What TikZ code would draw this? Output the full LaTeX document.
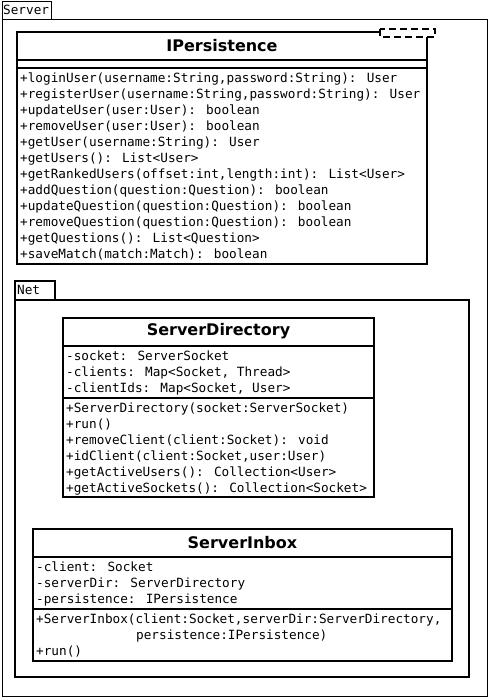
\documentclass[tikz,border=0pt]{standalone}
\usepackage{fontspec}
\setmainfont{DejaVu Sans}
\newfontfamily\umlmono{DejaVu Sans Mono}
\tikzset{
  pkgline/.style={line width=1bp},
  boxline/.style={line width=2bp},
  member/.style={anchor=west, inner sep=0pt, text height=9bp, text depth=2.5bp,
    font=\umlmono\fontsize{12.7bp}{16bp}\selectfont},
  classname/.style={inner sep=0pt, font=\bfseries\fontsize{16bp}{19bp}\selectfont}
}
\begin{document}
\begin{tikzpicture}[x=1bp,y=-1bp]
\useasboundingbox (0,0) rectangle (489,699);
% package Server
\draw [pkgline] (2,2) rectangle (51,20);
\draw [pkgline] (2,20) rectangle (487,696);
\node [member] (server) at (3,11) {Server};

% interface IPersistence
\draw [boxline] (17,32) rectangle (427,264);
\draw [boxline] (17,60) -- (427,60);
\draw [boxline] (17,68) -- (427,68);
\draw [line width=2bp, dashed, dash pattern=on 7bp off 4bp, fill=white] (380,29.5) rectangle (435,37.5);
\node [classname] (ipers) at (222,46) {IPersistence};
\foreach \txt [count=\i] in {%
  {+loginUser(username:String,password:String): User},
  {+registerUser(username:String,password:String): User},
  {+updateUser(user:User): boolean},
  {+removeUser(user:User): boolean},
  {+getUser(username:String): User},
  {+getUsers(): List<User>},
  {+getRankedUsers(offset:int,length:int): List<User>},
  {+addQuestion(question:Question): boolean},
  {+updateQuestion(question:Question): boolean},
  {+removeQuestion(question:Question): boolean},
  {+getQuestions(): List<Question>},
  {+saveMatch(match:Match): boolean}}
  \node [member] (ip\i) at (20,63+16*\i) {\txt};

% package Net
\draw [boxline] (15,281) rectangle (55,300);
\draw [boxline] (15,300) rectangle (469,677);
\node [member] (net) at (17,291) {Net};

% class ServerDirectory
\draw [boxline] (63,318) rectangle (374,497);
\draw [boxline] (63,346) -- (374,346);
\draw [boxline] (63,398) -- (374,398);
\node [classname] (sdir) at (218.5,331) {ServerDirectory};
\foreach \txt [count=\i] in {%
  {-socket: ServerSocket},
  {-clients: Map<Socket, Thread>},
  {-clientIds: Map<Socket, User>}}
  \node [member] (sda\i) at (66,341+16*\i) {\txt};
\foreach \txt [count=\i] in {%
  {+ServerDirectory(socket:ServerSocket)},
  {+run()},
  {+removeClient(client:Socket): void},
  {+idClient(client:Socket,user:User)},
  {+getActiveUsers(): Collection<User>},
  {+getActiveSockets(): Collection<Socket>}}
  \node [member] (sdm\i) at (66,393+16*\i) {\txt};

% class ServerInbox
\draw [boxline] (33,529) rectangle (452,661);
\draw [boxline] (33,557) -- (452,557);
\draw [boxline] (33,609) -- (452,609);
\node [classname] (sinbox) at (242.5,543) {ServerInbox};
\node [member] (sia1) at (36,568) {-client: Socket};
\node [member] (sia2) at (36,584) {-serverDir: ServerDirectory};
\node [member] (sia3) at (36,600) {-persistence: IPersistence};
\node [member] (sim1) at (36,620) {+ServerInbox(client:Socket,serverDir:ServerDirectory,};
\node [member] (sim2) at (136,636) {persistence:IPersistence)};
\node [member] (sim3) at (36,652) {+run()};
\end{tikzpicture}
\end{document}
